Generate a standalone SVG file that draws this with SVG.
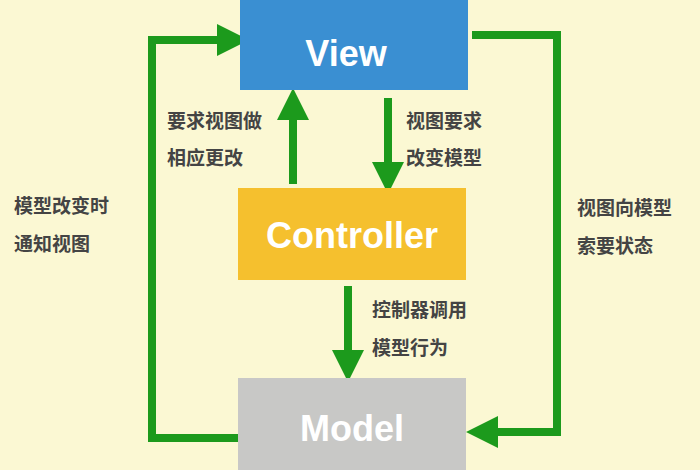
<svg xmlns="http://www.w3.org/2000/svg" width="700" height="470" viewBox="0 0 700 470">
<style>
.box-t{font-family:"Liberation Sans","Noto Sans",sans-serif;font-weight:bold;font-size:36px;fill:#fff;text-anchor:middle}
.lbl{font-family:"Noto Sans CJK SC",sans-serif;font-weight:bold;font-size:19px;fill:#444}
.ln{stroke:#1c9a1c;stroke-width:8;fill:none}
</style>
<defs>
<marker id="ah" markerWidth="4" markerHeight="4" refX="1" refY="2" orient="auto" markerUnits="strokeWidth">
<path d="M0,0 L4,2 L0,4 Z" fill="#1c9a1c"/>
</marker>
</defs>
<rect width="700" height="470" fill="#fbf8d3"/>
<g id="connectors">
<polyline class="ln" points="238,438 152,438 152,40 225,40" marker-end="url(#ah)"/>
<polyline class="ln" points="472,35 557,35 557,432 490,432" marker-end="url(#ah)"/>
<line class="ln" x1="293" y1="184" x2="293" y2="112" marker-end="url(#ah)"/>
<line class="ln" x1="388" y1="98" x2="388" y2="170" marker-end="url(#ah)"/>
<line class="ln" x1="348" y1="286" x2="348" y2="358" marker-end="url(#ah)"/>
</g>
<g id="view"><rect x="240" y="0" width="228" height="90" fill="#3a8fd2"/><text class="box-t" x="346" y="66">View</text></g>
<g id="controller"><rect x="238" y="188" width="228" height="92" fill="#f5c02e"/><text class="box-t" x="352" y="248">Controller</text></g>
<g id="model"><rect x="238" y="378" width="228" height="92" fill="#c8c8c6"/><text class="box-t" x="352" y="441">Model</text></g>
<g id="labels">
<text class="lbl" x="167" y="128">要求视图做</text>
<text class="lbl" x="167" y="165">相应更改</text>
<text class="lbl" x="406" y="128">视图要求</text>
<text class="lbl" x="406" y="165">改变模型</text>
<text class="lbl" x="14" y="213">模型改变时</text>
<text class="lbl" x="14" y="251">通知视图</text>
<text class="lbl" x="577" y="215">视图向模型</text>
<text class="lbl" x="577" y="253">索要状态</text>
<text class="lbl" x="372" y="317">控制器调用</text>
<text class="lbl" x="372" y="355">模型行为</text>
</g>
</svg>
